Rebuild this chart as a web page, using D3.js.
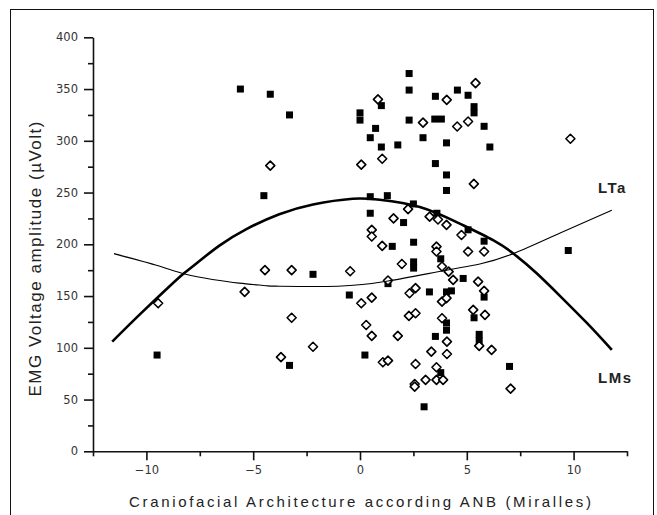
<!DOCTYPE html>
<html>
<head>
<meta charset="utf-8">
<script src="https://cdn.jsdelivr.net/npm/d3@7"></script>
<style>
  body { margin: 0; background: #fff; }
</style>
</head>
<body>
<div id="chart"></div>
<script>
var width = 657, height = 515;
var plot = {left: 93, right: 627, top: 37.3, bottom: 451.3};

// filled squares
var solidX = [-9.5, -5.6, -4.5, -4.2, -3.3, -3.3, -2.2, -0.5, 0, 0, 0.23, 0.48, 0.48, 0.48, 0.73, 1.0, 1.0, 1.28, 1.31, 1.51,
              1.77, 2.04, 2.3, 2.3, 2.3, 2.5, 2.51, 2.51, 2.51, 2.95, 3.0, 3.25, 3.53, 3.5, 3.81, 3.53, 3.6, 3.78, 3.53, 3.78,
              4.05, 4.05, 4.05, 4.05, 4.28, 4.05, 4.05, 4.56, 4.83, 5.06, 5.34, 5.34, 5.06, 5.34, 5.58, 5.58, 5.81, 5.81, 5.81, 6.08,
              7.0, 9.75];
var solidY = [93, 350, 247, 345, 325, 83, 171, 151, 327, 320, 93, 246, 230, 303, 312, 334, 294, 247, 162, 198,
              296, 221, 365, 349, 320, 239, 202, 183, 177, 303, 43, 154, 343, 321, 321, 278, 230, 186, 111, 76,
              298, 267, 252, 154, 155, 124, 117, 349, 167, 344, 333, 327, 214, 129, 113, 107, 314, 203, 149, 294,
              82, 194];

// open diamonds
var hollowX = [-9.45, -5.4, -4.2, -4.45, -3.2, -3.2, -3.7, -2.2, -0.46, 0.06, 0.06, 0.29, 0.55, 0.55, 0.55, 0.55, 0.84, 1.04, 1.04, 1.07,
               1.31, 1.31, 1.57, 1.77, 1.96, 2.25, 2.32, 2.6, 2.29, 2.6, 2.6, 2.56, 2.56, 2.95, 3.07, 3.26, 3.34, 3.65, 3.58, 3.58,
               3.84, 3.84, 4.05, 3.84, 3.58, 3.58, 3.89, 4.05, 4.15, 4.36, 4.07, 4.07, 4.06, 4.55, 5.06, 5.41, 5.33, 4.75, 5.06, 5.53,
               5.3, 5.81, 5.81, 5.85, 5.58, 6.16, 7.05, 9.85];
var hollowY = [143, 154, 276, 175, 175, 129, 91, 101, 174, 277, 143, 122, 111.5, 148.5, 214, 207.5, 340, 282.6, 198.5, 86,
               87.6, 165, 225, 111.5, 181, 234, 152.7, 157.6, 130.8, 133.4, 84.4, 65, 62.5, 317.6, 69, 226.8, 96.3, 224, 197.8, 193,
               178.5, 144.6, 148, 128.6, 81.2, 69, 69, 218.8, 173.6, 165.6, 106, 94, 339.6, 313.8, 318.6, 355.7, 258.4, 209, 193, 164,
               136.6, 193, 155, 131.8, 101.8, 98, 60.5, 302];

// fitted curves, sampled along x
var lmsCurveX = [-11.6, -10.27, -8.94, -8.24, -7.69, -6.6, -5.34, -3.78, -2.2, -0.34, 0.92, 2.8, 4.67, 6.23, 7.25, 8.27, 9.37, 10.62, 11.79];
var lmsCurveY = [106, 133, 159, 172, 181, 198.5, 214.5, 229, 238.5, 244, 243, 236, 220, 204, 190, 172, 150, 124, 98];
var ltaCurveX = [-11.52, -9.57, -8.16, -6.91, -5.66, -4.4, -3.78, -1.04, 1.31, 4.05, 5.61, 7.17, 9.37, 11.79];
var ltaCurveY = [191, 180, 171, 166, 162.5, 160, 159.5, 159.5, 164.5, 175, 181, 191, 211, 233];

var xTicks = [-10, -5, 0, 5, 10];
var xMinorTicks = [-12.5, -7.5, -2.5, 2.5, 7.5, 12.5];
var yTicks = [0, 50, 100, 150, 200, 250, 300, 350, 400];
var yMinorTicks = [25, 75, 125, 175, 225, 275, 325, 375];

var svg = d3.select("#chart")
    .append("svg")
    .attr("width", width)
    .attr("height", height);

// outer frame
svg.append("rect")
    .attr("x", 10.5)
    .attr("y", 9.5)
    .attr("width", 643)
    .attr("height", 520)
    .attr("fill", "none")
    .attr("stroke", "#111")
    .attr("stroke-width", 1);

var xScale = d3.scaleLinear().domain([-12.5, 12.5]).range([plot.left, plot.right]);
var yScale = d3.scaleLinear().domain([0, 400]).range([plot.bottom, plot.top]);

var tickFont = "'DejaVu Sans', sans-serif";
var titleFont = "Arial, 'Liberation Sans', sans-serif";

// --- AXES --- //
svg.append("g")
    .attr("transform", "translate(0," + plot.bottom + ")")
    .call(d3.axisBottom(xScale).tickValues(xTicks).tickSize(9).tickSizeOuter(0).tickPadding(6));
svg.append("g")
    .attr("transform", "translate(0," + plot.bottom + ")")
    .call(d3.axisBottom(xScale).tickValues(xMinorTicks).tickSize(5).tickFormat(""))
    .call(g => g.select(".domain").remove());

svg.append("g")
    .attr("transform", "translate(" + plot.left + ",0)")
    .call(d3.axisLeft(yScale).tickValues(yTicks).tickSize(9).tickSizeOuter(0).tickPadding(6));
svg.append("g")
    .attr("transform", "translate(" + plot.left + ",0)")
    .call(d3.axisLeft(yScale).tickValues(yMinorTicks).tickSize(5).tickFormat(""))
    .call(g => g.select(".domain").remove());

svg.selectAll(".domain, .tick line")
    .attr("stroke", "#111")
    .attr("stroke-width", 1.6);
svg.selectAll(".tick text")
    .attr("fill", "#333")
    .attr("font-family", tickFont)
    .attr("font-size", "11.5px");

// axis titles
svg.append("text")
    .attr("x", xScale(0))
    .attr("y", 507)
    .attr("text-anchor", "middle")
    .attr("textLength", 462)
    .attr("lengthAdjust", "spacing")
    .attr("fill", "#222")
    .attr("font-family", titleFont)
    .attr("font-size", "15px")
    .text("Craniofacial Architecture according ANB (Miralles)");

svg.append("text")
    .attr("transform", "translate(41,259) rotate(-90)")
    .attr("text-anchor", "middle")
    .attr("textLength", 275)
    .attr("lengthAdjust", "spacing")
    .attr("fill", "#222")
    .attr("font-family", titleFont)
    .attr("font-size", "17px")
    .text("EMG Voltage amplitude (\u00b5Volt)");

// --- POINTS --- //
var solidPts = solidX.map(function(d, i) { return {x: d, y: solidY[i]}; });
var hollowPts = hollowX.map(function(d, i) { return {x: d, y: hollowY[i]}; });

svg.append("g")
    .selectAll("rect")
    .data(solidPts)
    .enter()
    .append("rect")
    .attr("x", d => xScale(d.x) - 3.5)
    .attr("y", d => yScale(d.y) - 3.5)
    .attr("width", 7)
    .attr("height", 7)
    .attr("fill", "#000");

var r = 4.5;
svg.append("g")
    .selectAll("path")
    .data(hollowPts)
    .enter()
    .append("path")
    .attr("transform", d => "translate(" + xScale(d.x) + "," + yScale(d.y) + ")")
    .attr("d", "M0," + (-r) + "L" + r + ",0L0," + r + "L" + (-r) + ",0Z")
    .attr("fill", "#fff")
    .attr("stroke", "#000")
    .attr("stroke-width", 1.6)
    .attr("stroke-linejoin", "round");

// --- FIT CURVES --- //
var line = d3.line()
    .x(d => xScale(d[0]))
    .y(d => yScale(d[1]))
    .curve(d3.curveNatural);

svg.append("path")
    .datum(lmsCurveX.map((d, i) => [d, lmsCurveY[i]]))
    .attr("fill", "none")
    .attr("stroke", "#000")
    .attr("stroke-width", 2.6)
    .attr("d", line);

svg.append("path")
    .datum(ltaCurveX.map((d, i) => [d, ltaCurveY[i]]))
    .attr("fill", "none")
    .attr("stroke", "#000")
    .attr("stroke-width", 1.1)
    .attr("d", line);

// curve labels
svg.append("text")
    .attr("x", 598)
    .attr("y", 193)
    .attr("fill", "#222")
    .attr("font-family", titleFont)
    .attr("font-weight", "bold")
    .attr("font-size", "15px")
    .attr("letter-spacing", "1.5px")
    .text("LTa");

svg.append("text")
    .attr("x", 598)
    .attr("y", 383)
    .attr("fill", "#222")
    .attr("font-family", titleFont)
    .attr("font-weight", "bold")
    .attr("font-size", "15px")
    .attr("letter-spacing", "1.5px")
    .text("LMs");
</script>
</body>
</html>
